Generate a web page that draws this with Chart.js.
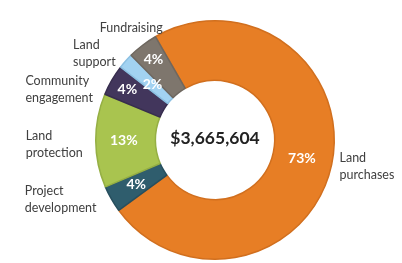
<!DOCTYPE html>
<html lang="en">
<head>
    <meta charset="UTF-8">
    <title>Spending breakdown</title>
    <script src="https://cdn.jsdelivr.net/npm/chart.js"></script>
    <style>
        html, body { margin: 0; padding: 0; background: #fff; }
        canvas { display: block; }
    </style>
</head>
<body>
    <canvas id="donut" width="402" height="263"></canvas>

    <script>
        // Data (clockwise from the top-right)
        const categories = ['Land purchases', 'Project development', 'Land protection', 'Community engagement', 'Land support', 'Fundraising'];
        const shares = [73.3, 3.6, 12.7, 4.2, 2.1, 4.1];
        const shareLabels = ['73%', '4%', '13%', '4%', '2%', '4%'];
        const nameLines = [['Land', 'purchases'], ['Project', 'development'], ['Land', 'protection'], ['Community', 'engagement'], ['Land', 'support'], ['Fundraising']];
        const totalLabel = '$3,665,604';

        const fills = ['#E77E25', '#2F5D6D', '#A9C44F', '#42365C', '#A2D2F1', '#7E766D'];
        const edges = ['#D16F1E', '#274F5E', '#95AF44', '#372D4E', '#8CC0E2', '#6E675F'];

        // where the percent sits, as fraction of ring (0 = inner, 1 = outer)
        const pctRadius = [0.49, 0.52, 0.53, 0.70, 0.40, 0.70];
        // small nudges for the outside names, like the original layout
        const nameNudge = [[0, 0], [-8, -3], [-5, 4], [-12, 13], [-4, -2], [25, -11]];

        const labelPlugin = {
            id: 'labels',
            afterDraw(chart) {
                const ctx = chart.ctx;
                const arcs = chart.getDatasetMeta(0).data;
                ctx.save();

                arcs.forEach((arc, i) => {
                    const p = arc.getProps(['x', 'y', 'startAngle', 'endAngle', 'innerRadius', 'outerRadius'], true);
                    const mid = (p.startAngle + p.endAngle) / 2;

                    // percent inside the slice
                    const r = p.innerRadius + (p.outerRadius - p.innerRadius) * pctRadius[i];
                    ctx.fillStyle = '#ffffff';
                    ctx.font = 'bold 14px Lato, "Open Sans", sans-serif';
                    ctx.textAlign = 'center';
                    ctx.textBaseline = 'middle';
                    ctx.fillText(shareLabels[i], p.x + Math.cos(mid) * r, p.y + Math.sin(mid) * r);

                    // category name outside
                    const lines = nameLines[i];
                    ctx.font = '12.5px Lato, "Open Sans", sans-serif';
                    ctx.fillStyle = '#404040';
                    ctx.textAlign = 'left';
                    const lineH = 17;
                    const w = Math.max(...lines.map(t => ctx.measureText(t).width));
                    const ax = p.x + Math.cos(mid) * (p.outerRadius + 8) + nameNudge[i][0];
                    const ay = p.y + Math.sin(mid) * (p.outerRadius + 8) + nameNudge[i][1];
                    const left = Math.cos(mid) < 0 ? ax - w : ax;
                    const top = ay - (lines.length - 1) * lineH / 2;
                    lines.forEach((t, k) => ctx.fillText(t, left, top + k * lineH));
                });

                // total in the hole
                const c = arcs[0];
                ctx.fillStyle = '#222222';
                ctx.font = 'bold 17.5px Lato, "Open Sans", sans-serif';
                ctx.textAlign = 'center';
                ctx.textBaseline = 'middle';
                ctx.fillText(totalLabel, c.x, c.y - 2);
                ctx.restore();
            }
        };

        new Chart(document.getElementById('donut'), {
            type: 'doughnut',
            data: {
                labels: categories,
                datasets: [{
                    data: shares,
                    backgroundColor: fills,
                    borderColor: edges,
                    borderWidth: 1.5
                }]
            },
            options: {
                responsive: false,
                animation: false,
                cutout: '50%',
                rotation: -30,
                layout: { padding: { left: 60, right: 32, top: 20, bottom: 3 } },
                plugins: {
                    legend: { display: false },
                    tooltip: { enabled: false }
                }
            },
            plugins: [labelPlugin]
        });
    </script>
</body>
</html>
